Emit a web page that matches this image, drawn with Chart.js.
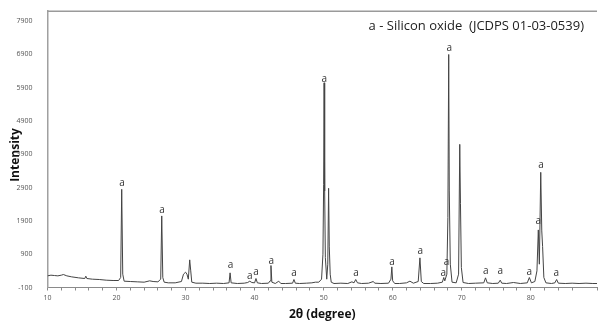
<!DOCTYPE html>
<html>
<head>
<meta charset="utf-8">
<script src="https://cdn.jsdelivr.net/npm/chart.js@4.4.1/dist/chart.umd.min.js"></script>
<style>
  html, body { margin: 0; padding: 0; background: #fff; }
  #wrap { width: 600px; height: 327px; position: relative; }
</style>
</head>
<body>
<div id="wrap"><canvas id="xrd"></canvas></div>
<script>
"use strict";

const twoTheta = [
  10.0, 10.5, 11.0, 11.5, 12.0, 12.3, 12.8, 13.5, 14.5, 15.4, 15.55, 15.7,
  16.5, 17.5, 18.5, 19.5, 20.3, 20.6, 20.75, 20.9, 21.1, 22.0, 23.0, 24.0,
  24.8, 25.3, 26.0, 26.4, 26.55, 26.7, 26.9, 27.5, 28.5, 29.4, 29.7, 30.0,
  30.2, 30.4, 30.6, 30.75, 30.9, 31.5, 32.5, 33.5, 34.5, 35.5, 36.3, 36.45,
  36.6, 37.5, 38.5, 39.0, 39.3, 39.6, 40.0, 40.2, 40.4, 41.0, 42.0, 42.25,
  42.37, 42.5, 43.0, 43.5, 43.8, 44.5, 45.5, 45.7, 45.9, 46.5, 47.5, 48.3,
  48.8, 49.3, 49.7, 49.9, 50.0, 50.07, 50.15, 50.25, 50.45, 50.6, 50.72, 50.82,
  50.95, 51.1, 51.5, 52.5, 53.5, 54.1, 54.4, 54.65, 54.9, 55.5, 56.5, 57.2,
  57.4, 58.3, 59.4, 59.75, 59.88, 60.0, 60.3, 61.0, 62.0, 62.5, 63.0, 63.7,
  63.95, 64.15, 64.5, 65.5, 66.5, 67.2, 67.4, 67.55, 67.85, 68.0, 68.12, 68.2,
  68.35, 68.6, 69.2, 69.55, 69.72, 69.82, 69.95, 70.2, 71.0, 72.0, 73.2, 73.45,
  73.7, 74.5, 75.3, 75.58, 75.8, 76.5, 77.5, 78.5, 79.5, 79.8, 80.1, 80.6,
  80.9, 81.1, 81.25, 81.45, 81.6, 81.72, 81.9, 82.2, 83.0, 83.5, 83.75, 84.0,
  85.0, 86.0, 87.0, 88.0, 89.0, 89.6
];
const intensity = [
  250, 270, 260, 250, 270, 290, 250, 220, 190, 170, 240, 170,
  150, 140, 120, 110, 110, 200, 2850, 300, 90, 80, 70, 60,
  100, 80, 70, 150, 2050, 200, 60, 40, 40, 80, 300, 360,
  300, 150, 730, 400, 60, 30, 30, 20, 30, 20, 40, 340,
  40, 20, 30, 50, 90, 50, 40, 170, 40, 20, 30, 100,
  560, 60, 20, 90, 20, 20, 30, 140, 30, 20, 30, 40,
  60, 60, 150, 900, 3000, 6050, 2800, 800, 150, 600, 2880, 1120,
  300, 60, 20, 30, 20, 70, 40, 140, 40, 20, 30, 80,
  30, 20, 30, 150, 520, 100, 20, 20, 40, 90, 30, 80,
  790, 80, 20, 20, 30, 60, 200, 100, 300, 2000, 6900, 2800,
  600, 60, 40, 300, 4200, 2430, 500, 50, 20, 30, 40, 190,
  40, 20, 30, 120, 30, 20, 50, 20, 40, 200, 40, 80,
  400, 1630, 600, 3360, 1600, 1130, 200, 40, 20, 40, 140, 30,
  20, 30, 20, 30, 20, 20
];

// "a" markers (silicon oxide reflections): 2θ and height where the letter sits
const peakX = [20.8, 26.6, 36.5, 39.3, 40.2, 42.4, 45.7, 50.1, 54.7, 59.9,
  64.0, 67.35, 67.8, 68.2, 73.5, 75.6, 79.8, 81.1, 81.5, 83.7];
const peakLabelY = [3046, 2221, 584, 236, 346, 704, 317, 6150, 317, 653,
  980, 317, 653, 7102, 385, 376, 355, 1903, 3590, 337];

const yTicks = [-100, 900, 1900, 2900, 3900, 4900, 5900, 6900, 7900];
const xLabels = [10, 20, 30, 40, 50, 60, 70, 80];

const legendText = "a - Silicon oxide  (JCDPS 01-03-0539)";
const xTitle = "2θ (degree)";
const yTitle = "Intensity";

const extras = {
  id: "extras",
  afterDraw(chart) {
    const { ctx, chartArea: a, scales } = chart;
    const xs = scales.x, ys = scales.y;
    ctx.save();
    // top frame line
    ctx.strokeStyle = "#9a9a9a";
    ctx.lineWidth = 1.5;
    ctx.beginPath();
    ctx.moveTo(a.left, a.top);
    ctx.lineTo(a.right, a.top);
    ctx.stroke();

    ctx.fillStyle = "#333";
    ctx.font = "10px 'Open Sans'";
    ctx.textAlign = "center";
    ctx.textBaseline = "middle";
    peakX.forEach((x, i) => {
      ctx.fillText("a", xs.getPixelForValue(x), ys.getPixelForValue(peakLabelY[i]));
    });

    ctx.fillStyle = "#222";
    ctx.font = "13px 'Open Sans'";
    ctx.textAlign = "right";
    ctx.fillText(legendText, a.right - 13, 26);

    ctx.fillStyle = "#111";
    ctx.font = "bold 12px 'Open Sans'";
    ctx.textAlign = "center";
    ctx.fillText(xTitle, (a.left + a.right) / 2, 315);

    ctx.translate(16, 155);
    ctx.rotate(-Math.PI / 2);
    ctx.fillText(yTitle, 0, 0);
    ctx.restore();
  },
};

new Chart(document.getElementById("xrd"), {
  type: "line",
  data: {
    datasets: [{
      data: twoTheta.map((x, i) => ({ x, y: intensity[i] })),
      borderColor: "#444",
      borderWidth: 1,
      pointRadius: 0,
      tension: 0,
      fill: false,
    }],
  },
  options: {
    responsive: true,
    maintainAspectRatio: false,
    animation: false,
    layout: { padding: { top: 9, right: 0, left: 0, bottom: 0 } },
    plugins: { legend: { display: false }, tooltip: { enabled: false } },
    scales: {
      x: {
        type: "linear",
        min: 10,
        max: 89.6,
        afterFit: (s) => { s.height = 39.5; },
        border: { color: "#8a8a8a", width: 1 },
        grid: { display: true, drawOnChartArea: false, drawTicks: true, tickLength: 3, color: "#8a8a8a" },
        ticks: {
          stepSize: 2,
          autoSkip: false,
          maxRotation: 0,
          padding: 3,
          color: "#555",
          font: { size: 7, family: "'Open Sans'" },
          callback: (v) => (xLabels.includes(v) ? String(v) : ""),
        },
      },
      y: {
        min: -100,
        max: 8200,
        afterFit: (s) => { s.width = 47.5; },
        afterBuildTicks: (s) => { s.ticks = yTicks.map((v) => ({ value: v })); },
        border: { color: "#a0a0a0", width: 1.5 },
        grid: { display: false },
        ticks: {
          padding: 7,
          color: "#555",
          font: { size: 7, family: "'Open Sans'" },
          callback: (v) => String(v),
        },
      },
    },
  },
  plugins: [extras],
});
</script>
</body>
</html>
